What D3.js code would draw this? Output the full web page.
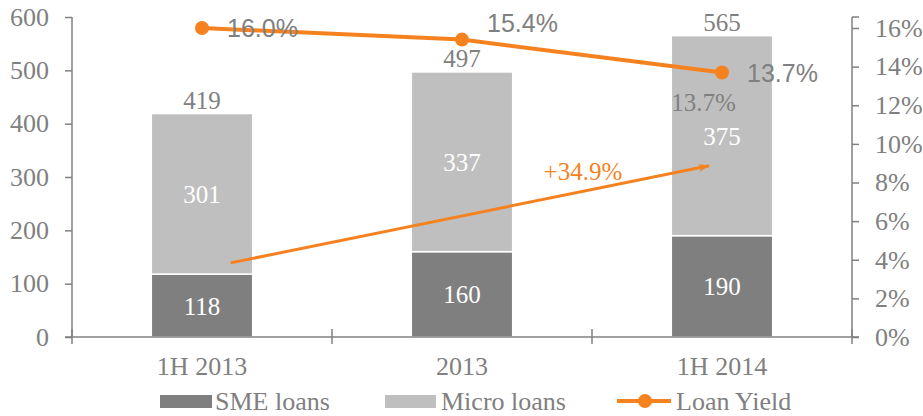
<!DOCTYPE html>
<html><head><meta charset="utf-8">
<script src="https://cdn.jsdelivr.net/npm/d3@7"></script>
<style>
html,body{margin:0;padding:0;background:#fff;}
svg{display:block;}
</style></head>
<body>
<svg id="chart" width="923" height="416"></svg>
<script>
// ---- data ----
const categories = ["1H 2013", "2013", "1H 2014"];
const smeLoans = [118, 160, 190];
const microLoans = [301, 337, 375];
const totals = [419, 497, 565];
const loanYield = [16.0, 15.4, 13.7];
const leftTicks = [0, 100, 200, 300, 400, 500, 600];
const rightTicks = [0, 2, 4, 6, 8, 10, 12, 14, 16];
const growthLabel = "+34.9%";
const strayLabel = "13.7%";
const legendNames = ["SME loans", "Micro loans", "Loan Yield"];

// ---- layout ----
const W = 923, H = 416;
const plot = {left: 72, right: 852, top: 17, bottom: 337};
const serif = "'Liberation Serif','Times New Roman',serif";
const sans = "'Liberation Sans',Arial,sans-serif";
const gray = "#808080", smeColor = "#7f7f7f", microColor = "#bfbfbf", orange = "#f5821f";

const svg = d3.select("#chart");

const x = d3.scaleBand().domain(categories).range([plot.left, plot.right])
  .paddingInner(0.61).paddingOuter(0.305);
const xc = d => x(d) + x.bandwidth() / 2;
const xi = d3.scaleLinear().domain([0, 2]).range([xc(categories[0]), xc(categories[2])]);
const y = d3.scaleLinear().domain([0, 600]).range([plot.bottom, plot.top]);
const y2 = d3.scaleLinear().domain([0, 16.57]).range([plot.bottom, plot.top]);

// stacked bars
const rows = categories.map((c, i) => ({cat: c, sme: smeLoans[i], micro: microLoans[i], total: totals[i]}));
const stack = d3.stack().keys(["sme", "micro"])(rows);
const colors = {sme: smeColor, micro: microColor};
svg.append("g").selectAll("g").data(stack).join("g")
  .attr("fill", s => colors[s.key])
  .selectAll("rect").data(s => s).join("rect")
  .attr("x", d => x(d.data.cat))
  .attr("width", x.bandwidth())
  .attr("y", d => y(d[1]))
  .attr("height", d => y(d[0]) - y(d[1]))
  .attr("stroke", "#fff").attr("stroke-width", 1.5);

// inner labels
svg.append("g").selectAll("text").data(stack.flatMap(s => s.map(d => ({cat: d.data.cat, lo: d[0], hi: d[1], v: d[1] - d[0]}))))
  .join("text")
  .attr("x", d => xc(d.cat))
  .attr("y", d => (y(d.lo) + y(d.hi)) / 2 + 9)
  .attr("text-anchor", "middle")
  .attr("font-family", serif).attr("font-size", 25).attr("fill", "#fff")
  .text(d => d.v);

// totals
svg.append("g").selectAll("text").data(rows).join("text")
  .attr("x", d => xc(d.cat)).attr("y", d => y(d.total) - 5)
  .attr("text-anchor", "middle")
  .attr("font-family", serif).attr("font-size", 25).attr("fill", gray)
  .text(d => d.total);

// axes
function styleAxis(g) {
  g.selectAll("path,line").attr("stroke", gray).attr("stroke-width", 1.5);
  g.selectAll("text").attr("font-family", serif).attr("font-size", 26).attr("fill", gray);
}
const yAxis = svg.append("g").attr("transform", `translate(${plot.left},0)`)
  .call(d3.axisLeft(y).tickValues(leftTicks).tickSize(7).tickPadding(16).tickSizeOuter(0));
styleAxis(yAxis);
yAxis.select(".domain").attr("d", `M0,${plot.top}V${plot.bottom}`);

const y2Axis = svg.append("g").attr("transform", `translate(${plot.right},0)`)
  .call(d3.axisRight(y2).tickValues(rightTicks).tickFormat(d => d + "%").tickSize(7).tickPadding(16).tickSizeOuter(0));
styleAxis(y2Axis);
y2Axis.select(".domain").attr("d", `M0,${plot.top}V${plot.bottom}`);
y2Axis.append("line").attr("x1", 0).attr("x2", 7).attr("y1", plot.top).attr("y2", plot.top)
  .attr("stroke", gray).attr("stroke-width", 1.5);

// x axis baseline with boundary ticks
const xAxis = svg.append("g");
xAxis.append("line").attr("x1", plot.left - 7).attr("x2", plot.right + 7)
  .attr("y1", plot.bottom).attr("y2", plot.bottom).attr("stroke", gray).attr("stroke-width", 1.5);
const bounds = categories.map(c => x(c) - x.step() * x.paddingInner() / 2).concat([plot.right]);
bounds[0] = plot.left;
xAxis.selectAll("line.b").data(bounds).join("line").attr("class", "b")
  .attr("x1", d => d).attr("x2", d => d).attr("y1", plot.bottom - 8).attr("y2", plot.bottom + 7)
  .attr("stroke", gray).attr("stroke-width", 1.5);
xAxis.selectAll("text").data(categories).join("text")
  .attr("x", d => xc(d)).attr("y", 375).attr("text-anchor", "middle")
  .attr("font-family", serif).attr("font-size", 26).attr("fill", gray)
  .text(d => d);

// growth arrow annotation (positions expressed in data space)
const arrowFrom = [0.11, 139], arrowTo = [1.95, 321];
const defs = svg.append("defs");
defs.append("marker").attr("id", "ah").attr("viewBox", "0 0 12 8").attr("refX", 11).attr("refY", 4)
  .attr("markerWidth", 12).attr("markerHeight", 8).attr("markerUnits", "userSpaceOnUse").attr("orient", "auto")
  .append("path").attr("d", "M0,0 L12,4 L0,8 L4,4 Z").attr("fill", orange);
svg.append("line")
  .attr("x1", xi(arrowFrom[0])).attr("y1", y(arrowFrom[1]))
  .attr("x2", xi(arrowTo[0])).attr("y2", y(arrowTo[1]))
  .attr("stroke", orange).attr("stroke-width", 3).attr("marker-end", "url(#ah)");
svg.append("text").attr("x", xi(1.465)).attr("y", y(294)).attr("text-anchor", "middle")
  .attr("font-family", serif).attr("font-size", 25).attr("fill", orange).text(growthLabel);

// stray label in third bar
svg.append("text").attr("x", x(categories[2])).attr("y", 111)
  .attr("font-family", serif).attr("font-size", 25).attr("fill", gray).text(strayLabel);

// yield line
const line = d3.line().x((d, i) => xc(categories[i])).y(d => y2(d));
svg.append("path").datum(loanYield).attr("d", line)
  .attr("fill", "none").attr("stroke", orange).attr("stroke-width", 4);
svg.append("g").selectAll("circle").data(loanYield).join("circle")
  .attr("cx", (d, i) => xc(categories[i])).attr("cy", d => y2(d)).attr("r", 7).attr("fill", orange);
const labelDy = [9, -8, 10];
svg.append("g").selectAll("text").data(loanYield).join("text")
  .attr("x", (d, i) => xc(categories[i]) + 25).attr("y", (d, i) => y2(d) + labelDy[i])
  .attr("font-family", sans).attr("font-size", 25).attr("fill", gray)
  .text(d => d.toFixed(1) + "%");

// legend
const lg = svg.append("g").attr("font-family", serif).attr("font-size", 26).attr("fill", gray);
lg.append("rect").attr("x", 160).attr("y", 395).attr("width", 52).attr("height", 13).attr("fill", smeColor);
lg.append("text").attr("x", 215).attr("y", 410).text(legendNames[0]);
lg.append("rect").attr("x", 385).attr("y", 395).attr("width", 51).attr("height", 13).attr("fill", microColor);
lg.append("text").attr("x", 441).attr("y", 410).text(legendNames[1]);
lg.append("line").attr("x1", 617).attr("x2", 671).attr("y1", 401).attr("y2", 401).attr("stroke", orange).attr("stroke-width", 4);
lg.append("circle").attr("cx", 645).attr("cy", 401).attr("r", 7).attr("fill", orange);
lg.append("text").attr("x", 676).attr("y", 410).text(legendNames[2]);
</script>
</body></html>
